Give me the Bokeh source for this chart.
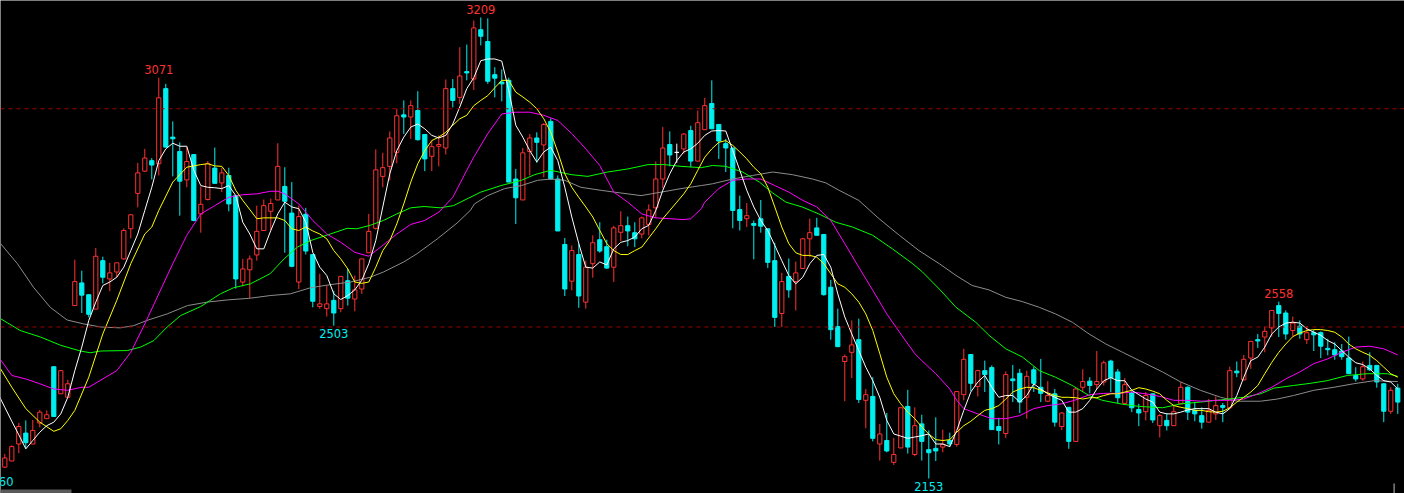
from bokeh.plotting import figure
from bokeh.models import Range1d, ColumnDataSource, BoxAnnotation, Span
from bokeh.embed import file_html
from bokeh.resources import INLINE
from bokeh.core.properties import value

# ---------------- data ----------------
opens = [2179,2193,2232,2257,2232,2280,2290,2409,2347,2339,
 2549,2601,2574,2541,2652,2610,2626,2656,2725,2806,
 2857,2881,2874,3046,2935,2902,2837,2895,2759,2792,
 2864,2830,2847,2801,2603,2631,2665,2721,2765,2791,
 2822,2761,2603,2758,2666,2547,2542,2561,2542,2606,
 2564,2587,2670,2726,2845,2868,2900,2986,2981,2996,
 2941,2891,2914,2910,3046,3026,3085,3068,3181,3154,
 3078,3061,3065,2839,2791,2902,2933,2917,2971,2839,
 2689,2605,2666,2557,2645,2700,2684,2637,2717,2732,
 2716,2713,2735,2773,2839,2918,2900,2908,2950,2880,
 2952,3012,2964,2920,2910,2769,2748,2737,2748,2725,
 2652,2531,2616,2604,2634,2702,2727,2712,2591,2501,
 2421,2442,2471,2332,2341,2232,2240,2190,2223,2318,
 2208,2278,2219,2222,2225,2240,2231,2345,2437,2364,
 2400,2407,2272,2256,2381,2394,2339,2402,2362,2330,
 2347,2272,2316,2238,2362,2376,2368,2374,2422,2397,
 2325,2349,2311,2306,2347,2274,2286,2274,2324,2362,
 2309,2297,2282,2301,2320,2315,2399,2379,2429,2471,
 2477,2498,2549,2532,2492,2502,2471,2487,2487,2451,
 2448,2445,2429,2389,2381,2412,2412,2370,2307,2360]

highs = [2209,2229,2280,2286,2287,2310,2309,2409,2400,2379,
 2654,2629,2574,2681,2661,2647,2647,2726,2759,2876,
 2908,2887,3071,3057,2971,2923,2912,2895,2822,2880,
 2911,2865,2865,2801,2656,2664,2778,2792,2794,2921,
 2866,2832,2778,2773,2666,2622,2594,2583,2616,2633,
 2618,2656,2759,2907,2899,2948,3000,3019,3019,3040,
 2941,2927,2939,3067,3068,3141,3147,3202,3209,3207,
 3095,3090,3071,2862,2910,2942,2946,2967,2978,2847,
 2704,2687,2691,2652,2710,2740,2700,2732,2765,2753,
 2740,2753,2781,2879,2958,2948,2920,2944,2961,2996,
 3025,3065,2964,2931,2910,2801,2784,2744,2791,2725,
 2693,2624,2657,2650,2704,2748,2750,2712,2608,2542,
 2437,2515,2519,2358,2385,2278,2303,2246,2315,2356,
 2316,2299,2263,2293,2265,2258,2352,2450,2437,2402,
 2423,2412,2292,2398,2413,2404,2400,2409,2427,2376,
 2358,2305,2316,2361,2403,2385,2445,2423,2425,2404,
 2383,2353,2324,2351,2348,2301,2303,2322,2374,2364,
 2328,2316,2335,2341,2326,2409,2421,2436,2467,2484,
 2501,2538,2558,2538,2524,2515,2502,2493,2490,2473,
 2465,2461,2478,2408,2421,2442,2412,2370,2362,2370]

lows = [2177,2193,2211,2221,2232,2270,2290,2295,2347,2339,
 2549,2532,2522,2541,2600,2582,2614,2654,2703,2774,
 2855,2838,2847,2912,2845,2755,2820,2742,2716,2790,
 2829,2809,2765,2588,2593,2566,2652,2721,2721,2791,
 2670,2637,2587,2666,2545,2542,2524,2503,2534,2549,
 2536,2576,2670,2723,2820,2836,2875,2942,2931,2927,
 2857,2857,2868,2895,3003,3011,3065,3043,3145,3057,
 3026,3017,2832,2736,2791,2847,2876,2843,2837,2720,
 2571,2584,2544,2542,2613,2670,2633,2603,2697,2685,
 2683,2703,2710,2750,2818,2868,2876,2897,2866,2880,
 2952,2954,2885,2855,2726,2721,2729,2655,2716,2635,
 2500,2500,2567,2538,2634,2660,2710,2572,2471,2454,
 2330,2383,2326,2268,2238,2194,2213,2184,2223,2210,
 2204,2194,2153,2193,2213,2225,2226,2332,2353,2341,
 2351,2265,2231,2246,2328,2303,2290,2351,2328,2328,
 2272,2264,2221,2238,2351,2348,2358,2366,2351,2326,
 2324,2305,2273,2286,2280,2247,2263,2273,2324,2287,
 2284,2267,2282,2287,2282,2315,2385,2377,2404,2452,
 2442,2478,2477,2471,2478,2473,2461,2445,2429,2435,
 2425,2425,2393,2375,2377,2399,2361,2282,2301,2301]

closes = [2200,2226,2272,2235,2263,2305,2299,2295,2400,2370,
 2604,2573,2529,2662,2614,2624,2647,2721,2757,2853,
 2887,2871,3025,2912,2931,2834,2879,2744,2781,2874,
 2829,2853,2782,2610,2633,2656,2719,2778,2783,2868,
 2788,2639,2753,2674,2559,2553,2553,2532,2616,2566,
 2585,2656,2719,2860,2865,2933,2984,2981,3007,2929,
 2885,2913,2918,3046,3019,3075,3082,3185,3166,3063,
 3070,3057,2832,2796,2899,2933,2923,2964,2839,2720,
 2587,2675,2571,2637,2693,2674,2635,2727,2732,2720,
 2702,2750,2768,2839,2910,2894,2900,2942,2880,2968,
 3007,2954,2926,2910,2767,2744,2755,2733,2731,2648,
 2522,2604,2585,2624,2702,2716,2710,2574,2494,2455,
 2432,2459,2334,2345,2245,2255,2216,2208,2315,2225,
 2274,2238,2212,2216,2231,2232,2352,2426,2371,2400,
 2391,2265,2263,2391,2377,2328,2387,2371,2348,2343,
 2282,2303,2238,2358,2375,2366,2375,2418,2384,2338,
 2368,2315,2303,2343,2287,2297,2274,2306,2362,2305,
 2301,2282,2309,2320,2316,2400,2395,2426,2467,2468,
 2490,2538,2531,2484,2509,2484,2487,2482,2456,2448,
 2436,2432,2393,2381,2409,2402,2374,2307,2355,2328]

# MA5 (white), one value per bar index from -1 to 199
ma5_x = list(range(-1, 200))
ma5 = [2348,
 2316,2284,2253,2221,2240,2259,2274,2282,2301,2339,
 2400,2454,2515,2557,2595,2603,2614,2637,2675,2713,
 2767,2820,2881,2908,2921,2914,2914,2859,2824,2820,
 2819,2817,2824,2801,2740,2713,2679,2679,2721,2759,
 2786,2775,2771,2740,2671,2637,2618,2576,2563,2572,
 2585,2607,2645,2698,2775,2851,2904,2935,2958,2965,
 2954,2939,2933,2939,2965,3004,3046,3071,3110,3114,
 3114,3109,3042,2962,2935,2904,2878,2901,2912,2881,
 2820,2752,2691,2637,2635,2649,2642,2679,2694,2698,
 2706,2725,2733,2767,2813,2851,2881,2901,2908,2921,
 2939,2949,2950,2949,2904,2859,2813,2775,2744,2721,
 2687,2652,2618,2599,2614,2645,2664,2666,2637,2576,
 2523,2484,2446,2408,2377,2339,2286,2255,2250,2245,
 2248,2251,2255,2232,2232,2226,2263,2309,2351,2374,
 2389,2362,2339,2343,2343,2328,2343,2370,2358,2347,
 2339,2332,2305,2305,2313,2332,2358,2377,2384,2377,
 2377,2355,2345,2335,2328,2305,2301,2301,2305,2310,
 2313,2313,2313,2305,2301,2313,2343,2385,2423,2431,
 2454,2484,2500,2509,2511,2509,2496,2488,2481,2469,
 2461,2446,2431,2418,2414,2404,2389,2377,2374,2358]

# MA10 (yellow)
ma10_x = [-0.6,1,3,5,7,8,9,10,12,14,16,18,20,21,22,24,26,28,29,30,31,32,33,34,36,37,39,40,
 41,42,43,44,45,46,47,48,49,50,51,52,53,54,55,56,57,58,59,60,61,62,63,64,65,66,67,68,69,70,
 71,72,73,74,75,76,77,78,79,80,81,82,83,84,85,86,87,88,89,90,91,92,93,94,95,96,97,98,99,100,
 101,102,103,104,105,106,107,108,109,110,111,112,113,114,115,116,117,118,119,120,121,122,123,
 124,125,126,127,128,129,130,131,132,133,134,135,136,137,138,139,140,141,142,143,144,145,146,
 147,148,149,150,151,152,153,154,155,156,157,158,159,160,161,162,163,164,165,166,167,168,169,
 170,171,172,173,174,175,176,177,178,179,180,181,182,183,184,185,186,187,188,189,190,191,192,
 193,194,195,196,197,198,199]
ma10 = [2404,2362,2313,2282,2261,2267,2286,2309,2385,2484,2561,2645,2713,2729,2767,2832,2866,2872,
 2874,2869,2868,2847,2813,2790,2748,2750,2750,2744,
 2725,2721,2729,2720,2713,2702,2675,2656,2633,2603,2600,2603,2637,2675,2698,2736,2782,2832,2874,
 2904,2927,2935,2946,2962,2977,2985,3007,3019,3030,3048,
 3065,3065,3038,3027,3015,3000,2977,2946,2901,2851,2820,2797,2775,2752,2721,2691,2675,2666,2666,
 2675,2683,2704,2725,2748,2767,2786,2805,2828,2859,2889,
 2908,2923,2927,2916,2901,2885,2866,2851,2820,2775,2729,2691,2670,2664,2664,2660,2645,2622,2599,
 2591,2576,2557,2530,
 2492,2439,2385,2347,2324,2305,2290,2271,2255,2242,2240,2242,2259,2274,2284,2297,2309,2313,2320,
 2335,2351,2358,2362,
 2361,2355,2349,2343,2339,2339,2338,2335,2338,2338,2343,2347,2347,2351,2355,2361,2358,2353,2347,
 2332,2320,2316,2313,
 2309,2309,2306,2305,2307,2315,2328,2339,2351,2366,2393,2419,2442,2461,2478,2486,2492,2494,2494,
 2492,2488,2477,2461,
 2450,2442,2435,2423,2408,2393,2385]

# MA20 (magenta)
ma20_x = [-0.6,1,3,5,7,9,11,12,14,16,18,20,22,24,26,28,30,32,34,36,38,39,40,42,44,46,48,50,52,54,
 56,58,60,62,64,66,67,69,71,73,75,77,79,81,83,85,87,89,91,93,95,97,98,99.5,100,102,104,106,108,
 110,112,114,116,118,120,122,124,126,128,130,131,133,135,136,137,139,141,143,145,147,149,151,
 153,155,157,159,161,163,165,167,169,171,173,175,177,179,181,183,185,187,189,191,193,195,197,199]
ma20 = [2425,2389,2381,2370,2358,2355,2362,2362,2381,2400,2442,2507,2576,2645,2710,2759,2778,2797,
 2803,2805,2811,2811,2805,2782,2744,2713,2694,2671,2662,2687,
 2713,2735,2744,2763,2797,2859,2889,2943,2988,2992,2992,2985,2973,2943,2908,2870,2809,2786,2759,
 2750,2748,2746,2748,2771,2786,2817,2836,2839,2839,
 2824,2809,2790,2775,2744,2691,2637,2584,2530,2484,2439,2423,2393,2358,2332,2313,2301,2290,2290,
 2297,2313,2320,2324,
 2333,2345,2348,2348,2351,2347,2341,2332,2332,2330,2332,2332,2335,2347,2362,2381,2397,2416,2427,
 2442,2454,2456,2450,2436]

# MA60 (green)
ma60_x = [-0.6,2.2,5.1,8.0,10.8,12.2,13.7,17.5,19.4,21.3,23.2,25.1,28.0,30.8,32.7,35.1,37.9,39.9,
 41.8,43.7,46.5,48.9,50.3,52.2,54.1,56.0,58.0,59.9,62.2,64.1,65.6,68.0,70.9,73.8,75.7,78.0,80.9,
 83.3,86.1,89.0,91.9,94.2,96.6,99.5,101.1,103.0,105.4,107.8,109.7,111.6,113.9,116.3,118.7,121.1,
 124.0,126.8,129.7,131.1,133.5,135.9,138.7,140.6,143.0,145.4,147.8,150.1,152.5,154.9,156.8,159.7,
 162.1,165.4,168.0,170.8,173.7,177.0,179.4,181.3,184.1,186.5,188.9,191.8,194.6,197.5,199.0]
ma60 = [2519,2492,2477,2458,2445,2441,2445,2446,2454,2469,2500,2526,2547,2576,2590,2599,2622,2656,
 2683,2698,2713,2726,2725,2733,2744,2759,2773,2776,2773,2778,2790,2809,2824,2836,2849,2859,2849,
 2845,2855,2862,2872,2872,2868,2865,2870,2868,2855,2832,2807,2786,2775,2759,2740,2729,
 2710,2679,2645,2626,2587,2545,2511,2481,2450,2431,2400,2385,2366,2343,2332,2323,
 2318,2315,2324,2328,2333,2339,2347,2360,2366,2371,2377,2389,2393,2393,2387]

# MA120 (gray)
ma120_x = [-0.6,1.8,4.1,6.5,8.9,11.3,13.7,16.5,18.4,20.3,23.2,26.1,28.9,31.8,35.1,37.9,40.8,43.7,
 46.5,49.4,52.2,54.1,57.0,58.9,61.8,64.6,66.5,67.1,69.0,71.4,73.8,76.1,78.0,80.0,82.3,85.2,88.0,
 90.9,93.8,96.6,99.5,101.1,104.0,106.8,109.7,112.5,115.4,117.3,119.2,122.0,124.9,127.8,130.6,
 133.5,135.9,138.2,140.6,143.0,145.4,147.8,150.1,152.5,154.9,157.3,159.7,162.1,165.4,168.0,170.8,
 173.7,176.1,179.4,181.8,184.1,187.0,189.9,192.7,195.6,199.0]
ma120 = [2691,2645,2591,2545,2516,2507,2500,2498,2503,2515,2530,2549,2557,2562,2566,2572,2576,2590,
 2597,2603,2614,2626,2649,2668,2702,2738,2767,2782,2801,2817,2824,2836,2839,2836,2820,2813,2807,
 2801,2809,2817,2824,2828,2839,2847,2855,2849,2839,2830,2813,2790,2748,2710,2675,
 2645,2618,2595,2585,2568,2558,2545,2530,2511,2484,2461,2442,2423,2397,2374,2355,
 2339,2330,2330,2335,2343,2355,2362,2370,2377,2375]

# marked extremes
high_marks_idx = [22, 68, 182]
high_marks_val = [3071, 3209, 2558]
low_marks_idx = [47, 132]
low_marks_val = [2503, 2153]
edge_mark_text = "2160"
edge_mark_val = 2165

ref_levels = [3000, 2500]

# ---------------- styling / layout ----------------
W, H = 1404, 493
X0, X1 = -0.614, 199.96
Y0, Y1 = 2118.6, 3247.9
RED = "#ff3232"
CYAN = "#00f0f0"
FONT = value("DejaVu Sans")

def px2x(px):
    return X0 + px / W * (X1 - X0)

def px2y(py):
    return Y1 - py / H * (Y1 - Y0)

p = figure(width=W, height=H, output_backend="svg", toolbar_location=None,
           x_range=Range1d(X0, X1), y_range=Range1d(Y0, Y1),
           x_axis_type=None, y_axis_type=None, min_border=0,
           background_fill_color="black", border_fill_color="black",
           outline_line_color=None)
p.grid.visible = False

for lv in ref_levels:
    p.add_layout(Span(location=lv, dimension="width", line_color="#a00000",
                      line_dash="4 4", line_width=1))

idx = list(range(len(opens)))
colors = []
fills = []
for o, c in zip(opens, closes):
    if c > o:
        colors.append(RED); fills.append("black")
    elif c < o:
        colors.append(CYAN); fills.append(CYAN)
    else:
        colors.append("white"); fills.append("white")
src = ColumnDataSource(dict(x=idx, o=opens, h=highs, l=lows, c=closes,
                            col=colors, fill=fills,
                            top=[max(a, b) for a, b in zip(opens, closes)],
                            bot=[min(a, b) for a, b in zip(opens, closes)]))

p.segment(x0="x", y0="l", x1="x", y1="h", color="col", line_width=1, source=src)
p.vbar(x="x", width=0.6, top="top", bottom="bot", fill_color="fill",
       line_color="col", line_width=1, source=src)

p.line(ma120_x, ma120, color="#8c8c8c", line_width=1)
p.line(ma60_x, ma60, color="#00ff00", line_width=1)
p.line(ma20_x, ma20, color="#ff00ff", line_width=1)
p.line(ma10_x, ma10, color="#ffff00", line_width=1)
p.line(ma5_x, ma5, color="#ffffff", line_width=1)

p.text(x=high_marks_idx, y=high_marks_val, text=[str(v) for v in high_marks_val],
       text_color=RED, text_font=FONT, text_font_size="11.5px",
       text_align="center", text_baseline="alphabetic", y_offset=-8)
p.text(x=low_marks_idx, y=low_marks_val, text=[str(v) for v in low_marks_val],
       text_color=CYAN, text_font=FONT, text_font_size="11.5px",
       text_align="center", text_baseline="alphabetic", y_offset=8)
p.text(x=[-0.85], y=[edge_mark_val], text=[edge_mark_text],
       text_color=CYAN, text_font=FONT, text_font_size="11.5px",
       text_align="center", text_baseline="alphabetic", y_offset=8)

# scroll bar and small marker at the bottom
p.add_layout(BoxAnnotation(left=px2x(0), right=px2x(71), top=px2y(489), bottom=px2y(492.5),
                           fill_color="#5a5a5a", fill_alpha=1, line_alpha=0))
p.add_layout(BoxAnnotation(left=px2x(1393), right=px2x(1394.2), top=px2y(483), bottom=px2y(493),
                           fill_color="#a0a0a0", fill_alpha=1, line_alpha=0))

html = file_html(p, INLINE)
html = html.replace("<body>", '<body style="margin:0;background:#000000;overflow:hidden;">', 1)
open("out.html", "w").write(html)
